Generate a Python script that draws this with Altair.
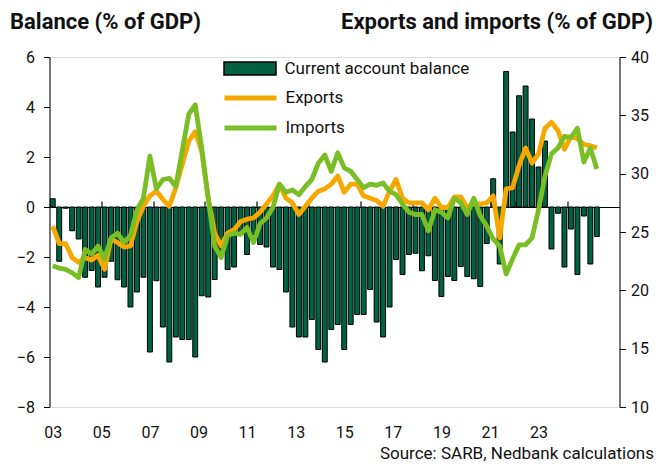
import altair as alt
import pandas as pd

# Quarterly data, 2003Q1 .. 2024Q1 (85 quarters)
ca_balance = [
    0.33, -2.17, -0.05, -0.95, -1.28, -2.81, -2.54, -3.2, -2.81, -2.17,
    -2.91, -3.2, -4.0, -3.4, -2.81, -5.8, -2.95, -4.8, -6.2, -5.2,
    -5.3, -5.3, -6.0, -3.55, -3.6, -2.9, -1.8, -2.5, -2.4, -1.1,
    -1.9, -1.1, -1.5, -1.6, -2.4, -2.5, -3.4, -4.8, -5.2, -5.2,
    -4.5, -5.7, -6.2, -4.9, -4.7, -5.7, -4.7, -4.3, -4.3, -3.3,
    -4.6, -5.2, -4.0, -2.1, -2.7, -1.9, -1.85, -2.55, -1.95, -2.94,
    -3.58, -2.78, -2.94, -2.38, -2.78, -2.87, -3.18, -1.46, 1.13, -2.28,
    5.42, 3.0, 4.45, 4.84, 3.52, 1.6, 2.64, -1.68, -0.25, -2.4,
    -0.88, -2.7, -0.36, -2.28, -1.18,
]
exports = [
    25.5, 24.0, 24.0, 22.8, 22.4, 22.8, 22.6, 23.0, 21.8, 24.4,
    24.1, 23.7, 23.8, 25.9, 27.2, 28.1, 28.5, 27.8, 27.2, 28.8,
    30.8, 32.8, 33.6, 31.9, 27.9, 24.9, 23.8, 24.9, 25.2, 25.9,
    26.1, 26.2, 26.7, 27.4, 28.1, 29.1, 27.9, 27.5, 26.5, 27.2,
    27.9, 28.5, 28.7, 29.1, 29.8, 28.4, 29.1, 29.1, 28.1, 27.9,
    27.7, 27.2, 28.5, 29.5, 27.9, 27.5, 27.5, 27.5, 26.9, 27.9,
    27.1, 27.1, 28.0, 28.0, 27.1, 27.5, 27.4, 27.5, 28.1, 24.5,
    28.7, 28.8, 30.7, 32.2, 30.9, 31.7, 33.9, 34.4, 33.7, 32.1,
    33.2, 33.0, 32.5, 32.4, 32.2,
]
imports = [
    22.1, 21.9, 21.8, 21.5, 21.1, 23.5, 23.1, 23.8, 22.7, 24.5,
    24.9, 24.1, 24.7, 26.9, 27.9, 31.5, 28.7, 29.5, 29.6, 28.9,
    32.0, 35.1, 35.9, 32.2, 27.9, 23.8, 22.8, 24.7, 24.9, 24.8,
    25.4, 24.1, 25.7, 26.2, 27.1, 29.1, 28.4, 28.6, 28.2, 28.9,
    29.5, 30.9, 31.6, 30.2, 31.8, 30.5, 30.2, 29.5, 28.8, 29.1,
    29.0, 29.2, 28.5, 28.2, 27.4, 26.7, 26.5, 26.5, 25.1, 26.9,
    26.7, 26.2, 27.9, 27.5, 26.5, 27.9, 26.4, 25.5, 24.4, 23.8,
    21.4, 22.7, 23.9, 23.9, 24.5, 26.9, 29.8, 31.7, 32.2, 33.2,
    33.1, 33.9, 31.0, 32.2, 30.4,
]
x_labels = ["03", "05", "07", "09", "11", "13", "15", "17", "19", "21", "23"]
x_label_pos = [0, 7.5, 15, 22.5, 30, 37.5, 45, 52.5, 60, 67.5, 75]
year_ticks = [7.5, 15.5, 23.5, 31.5, 39.5, 47.5, 55.5, 63.5, 71.5, 79.5]

FONT = "Roboto"
DARK = "#006241"
ORANGE = "#F6A800"
LIME = "#79BE24"

n = len(ca_balance)
bars_df = pd.DataFrame({
    "t": list(range(n)),
    "ca": ca_balance,
    "name": ["Current account balance"] * n,
})
lines_df = pd.DataFrame({
    "t": list(range(n)) * 2,
    "value": exports + imports,
    "series": ["Exports"] * n + ["Imports"] * n,
})

x_scale = alt.Scale(domain=[-0.5, 87.5], nice=False, zero=False)
label_expr = "[" + ",".join("'" + s + "'" for s in x_labels) + "][round(datum.value/7.5)]"

x_axis_bottom = alt.Axis(
    values=x_label_pos, labelExpr=label_expr, domain=False, ticks=False, tickSize=0,
    grid=False, labelFontSize=16, labelFont=FONT, labelColor="#111", labelPadding=17,
    title="Source: SARB, Nedbank calculations", titleFont=FONT, titleFontSize=17,
    titleFontWeight="normal", titleColor="#111", titleAnchor="end", titleAlign="right",
    titleX=604, titleY=46, titleBaseline="middle",
)
x_axis_zero = alt.Axis(
    orient="top", offset=-150, values=year_ticks, labels=False, ticks=True, tickSize=6,
    tickColor="black", domainColor="black", domainWidth=1.2, tickWidth=1.2, grid=False, title=None,
)

left_axis = alt.Axis(
    values=[-8, -6, -4, -2, 0, 2, 4, 6], tickSize=6, tickColor="black", domainColor="black",
    grid=False, labelFontSize=16, labelFont=FONT, labelColor="#111", labelPadding=9,
    title="Balance (% of GDP)", titleAngle=0, titleAlign="left", titleBaseline="middle",
    titleX=-40, titleY=-36, titleFont=FONT, titleFontSize=22, titleFontWeight="bold",
    titleColor="#111",
)
right_axis = alt.Axis(
    orient="right", values=[10, 15, 20, 25, 30, 35, 40], tickSize=6, tickColor="black",
    domainColor="black", grid=False, labelFontSize=16, labelFont=FONT, labelColor="#111",
    labelPadding=5,
    title="Exports and imports (% of GDP)", titleAngle=0, titleAlign="right",
    titleBaseline="middle", titleX=33, titleY=-36, titleFont=FONT, titleFontSize=22,
    titleFontWeight="bold", titleColor="#111",
)

legend_common = dict(
    orient="none", legendX=192, title=None, symbolSize=169,
    labelFontSize=17, labelFont=FONT, labelColor="#111", labelOffset=26, labelLimit=400,
)

bars = alt.Chart(bars_df).transform_calculate(
    t0="datum.t - 0.38", t1="datum.t + 0.38"
).mark_bar(stroke="black", strokeWidth=1).encode(
    x=alt.X("t0:Q", scale=x_scale, axis=x_axis_bottom),
    x2="t1:Q",
    y=alt.Y("ca:Q", scale=alt.Scale(domain=[-8, 6], nice=False, zero=False), axis=left_axis),
    y2=alt.datum(0),
    fill=alt.Fill(
        "name:N",
        scale=alt.Scale(domain=["Current account balance"], range=[DARK]),
        legend=alt.Legend(
            legendY=3, symbolType="M-4,-1H4V1H-4Z",
            symbolStrokeColor="black", symbolStrokeWidth=1.5,
            **legend_common,
        ),
    ),
)

lines = alt.Chart(lines_df).mark_line(strokeWidth=4.8, strokeJoin="round").encode(
    x=alt.X("t:Q", scale=x_scale, axis=x_axis_zero),
    y=alt.Y("value:Q", scale=alt.Scale(domain=[10, 40], nice=False, zero=False), axis=right_axis),
    stroke=alt.Stroke(
        "series:N",
        scale=alt.Scale(domain=["Exports", "Imports"], range=[ORANGE, LIME]),
        legend=alt.Legend(
            legendY=32, symbolType="M-4,0H4", symbolStrokeWidth=5,
            rowPadding=10, **legend_common,
        ),
    ),
    detail="series:N",
)

chart = alt.layer(bars, lines).resolve_scale(
    y="independent"
).resolve_axis(
    x="independent"
).properties(
    width=570, height=350,
    autosize=alt.AutoSizeParams(type="none"),
    padding={"left": 41.5, "top": 49, "right": 36, "bottom": 59},
).configure_view(stroke=None).configure(background="white")

chart.save("out.html", embed_options={"renderer": "svg", "actions": False})
